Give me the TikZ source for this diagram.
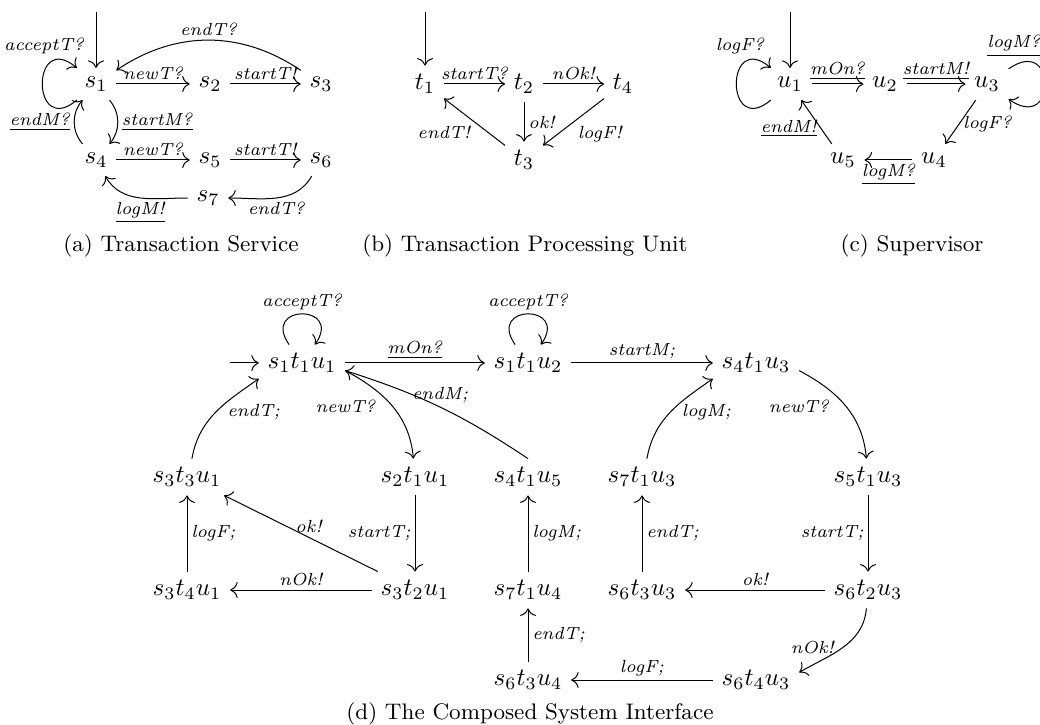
\documentclass[tikz,border=0pt]{standalone}
\usetikzlibrary{arrows.meta}
\begin{document}
\begin{tikzpicture}[x=0.4pt,y=0.4pt,>={To[length=3pt,width=6.4pt]},
  lab/.style={font=\scriptsize\itshape,inner sep=1.5pt},
  captxt/.style={font=\small},
  lloop/.style={out=220,in=140,distance=24pt},
  rloop/.style={out=35,in=-35,distance=24pt},
  aloop/.style={out=125,in=55,distance=20pt}]
\useasboundingbox (0,0) rectangle (1040,-725);
% ---------- (a) Transaction Service ----------
\node (s1) at (96,-84) {$s_1$};
\node (s2) at (210,-84) {$s_2$};
\node (s3) at (321,-84) {$s_3$};
\node (s4) at (96,-160) {$s_4$};
\node (s5) at (210,-160) {$s_5$};
\node (s6) at (321,-160) {$s_6$};
\node (s7) at (208,-198) {$s_7$};
\coordinate (sa) at (96,-12);
\draw[->] (sa) -- (s1);
\draw[->] (s1) to[lloop] (s1);
\node[lab] (la1) at (44,-46) {acceptT?};
\draw[->] (s1) -- node[lab,above]{newT?} (s2);
\draw[->] (s2) -- node[lab,above]{startT!} (s3);
\draw[->] (s3) to[bend right=34] node[lab,above]{endT?} (s1);
\draw[->] (s1) to[bend left=40] node[lab,right]{\underline{startM?}} (s4);
\draw[->] (s4) to[bend left=40] node[lab,left]{\underline{endM?}} (s1);
\draw[->] (s4) -- node[lab,above]{newT?} (s5);
\draw[->] (s5) -- node[lab,above]{startT!} (s6);
\draw[->] (s6) to[out=-120,in=0] node[lab,below]{endT?} (s7);
\draw[->] (s7) to[out=180,in=-60] node[lab,below]{\underline{logM!}} (s4);
\node[captxt] (ca) at (181,-246) {(a) Transaction Service};
% ---------- (b) Transaction Processing Unit ----------
\node (t1) at (425,-84) {$t_1$};
\node (t2) at (524,-84) {$t_2$};
\node (t4) at (623,-84) {$t_4$};
\node (t3) at (524,-160) {$t_3$};
\coordinate (tb) at (425,-12);
\draw[->] (tb) -- (t1);
\draw[->] (t1) -- node[lab,above]{startT?} (t2);
\draw[->] (t2) -- node[lab,above]{nOk!} (t4);
\draw[->] (t2) -- node[lab,right]{ok!} (t3);
\draw[->] (t4) -- node[lab,below right]{logF!} (t3);
\draw[->] (t3) -- node[lab,below left]{endT!} (t1);
\node[captxt] (cb) at (525,-246) {(b) Transaction Processing Unit};
% ---------- (c) Supervisor ----------
\node (u1) at (790,-84) {$u_1$};
\node (u2) at (885,-84) {$u_2$};
\node (u3) at (987,-84) {$u_3$};
\node (u4) at (934,-160) {$u_4$};
\node (u5) at (843,-160) {$u_5$};
\coordinate (uc) at (790,-12);
\draw[->] (uc) -- (u1);
\draw[->] (u1) to[lloop] (u1);
\node[lab] (lc1) at (740,-46) {logF?};
\draw[->] (u3) to[rloop] (u3);
\node[lab] (lc2) at (1014,-46) {\underline{logM?}};
\draw[->] (u1) -- node[lab,above]{\underline{mOn?}} (u2);
\draw[->] (u2) -- node[lab,above]{\underline{startM!}} (u3);
\draw[->] (u3) -- node[lab,right,pos=0.55]{logF?} (u4);
\draw[->] (u4) -- node[lab,below]{\underline{logM?}} (u5);
\draw[->] (u5) -- node[lab,left,pos=0.35]{\underline{endM!}} (u1);
\node[captxt] (cc) at (912,-246) {(c) Supervisor};
% ---------- (d) The Composed System Interface ----------
\node (d111) at (302,-363) {$s_1t_1u_1$};
\node (d112) at (528,-363) {$s_1t_1u_2$};
\node (d413) at (756,-363) {$s_4t_1u_3$};
\node (d331) at (187,-477) {$s_3t_3u_1$};
\node (d211) at (415,-477) {$s_2t_1u_1$};
\node (d415) at (528,-477) {$s_4t_1u_5$};
\node (d713) at (642,-477) {$s_7t_1u_3$};
\node (d513) at (868,-477) {$s_5t_1u_3$};
\node (d341) at (187,-590) {$s_3t_4u_1$};
\node (d321) at (415,-590) {$s_3t_2u_1$};
\node (d714) at (528,-590) {$s_7t_1u_4$};
\node (d633) at (642,-590) {$s_6t_3u_3$};
\node (d623) at (868,-590) {$s_6t_2u_3$};
\node (d634) at (528,-680) {$s_6t_3u_4$};
\node (d643) at (756,-680) {$s_6t_4u_3$};
\coordinate (ds) at (230,-363);
\draw[->] (ds) -- (d111);
\draw[->] (d111) to[aloop] node[lab,above]{acceptT?} (d111);
\draw[->] (d112) to[aloop] node[lab,above]{acceptT?} (d112);
\draw[->] (d111) -- node[lab,above]{\underline{mOn?}} (d112);
\draw[->] (d112) -- node[lab,above]{startM;} (d413);
\draw[->] (d111.-10) to[out=-28,in=95] node[lab,left=5pt]{newT?} (d211);
\draw[->] (d415.north) to[bend right=8] node[lab,above]{endM;} (d111.-10);
\draw[->] (d331.75) to[out=80,in=215] node[lab,right=3pt]{endT;} (d111.200);
\draw[->] (d211) -- node[lab,left]{startT;} (d321);
\draw[->] (d321) -- node[lab,above]{nOk!} (d341);
\draw[->] (d321) -- node[lab,above,pos=0.45]{ok!} (d331);
\draw[->] (d341) -- node[lab,right]{logF;} (d331);
\draw[->] (d714) -- node[lab,right]{logM;} (d415);
\draw[->] (d634) -- node[lab,right]{endT;} (d714);
\draw[->] (d643) -- node[lab,above]{logF;} (d634);
\draw[->] (d413.-10) to[out=-28,in=95] node[lab,left=5pt]{newT?} (d513);
\draw[->] (d513) -- node[lab,left]{startT;} (d623);
\draw[->] (d623) -- node[lab,above]{ok!} (d633);
\draw[->] (d633) -- node[lab,right]{endT;} (d713);
\draw[->] (d713.75) to[out=80,in=215] node[lab,right=3pt]{logM;} (d413.200);
\draw[->] (d623) to[out=-95,in=30] node[lab,left=2pt]{nOk!} (d643.10);
\node[captxt] (cd) at (530,-714) {(d) The Composed System Interface};
\end{tikzpicture}
\end{document}
